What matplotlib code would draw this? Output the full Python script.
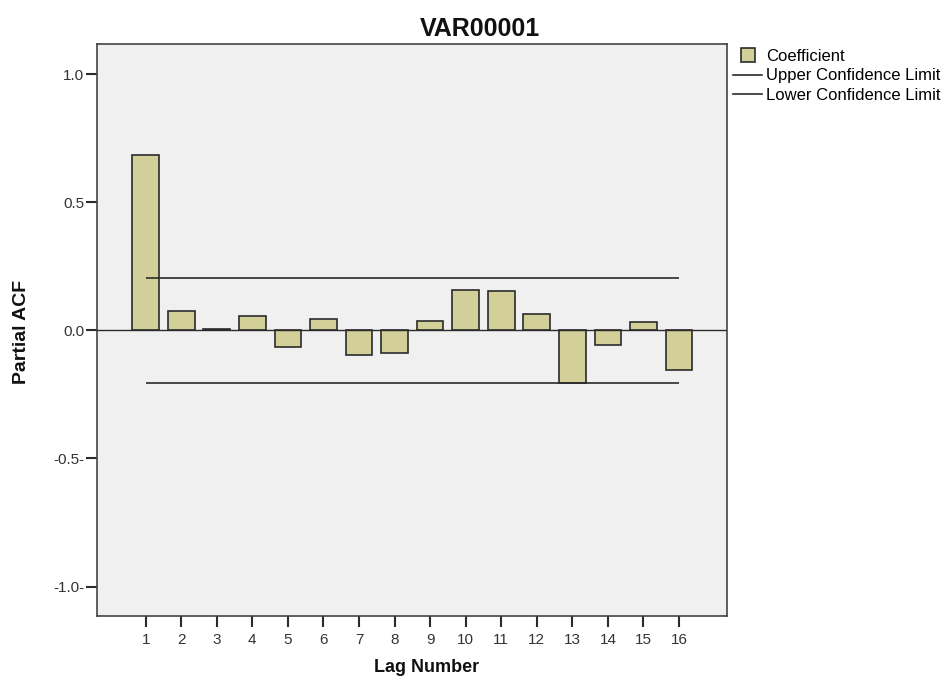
import numpy as np
import matplotlib.pyplot as plt
from matplotlib.lines import Line2D

# ----------------------------------------------------------------------
# Data
# ----------------------------------------------------------------------
LAGS = [1, 2, 3, 4, 5, 6, 7, 8, 9, 10, 11, 12, 13, 14, 15, 16]
PACF = [0.685, 0.075, 0.004, 0.055, -0.066, 0.043, -0.095, -0.090,
        0.038, 0.157, 0.153, 0.065, -0.205, -0.057, 0.033, -0.153]
UPPER_LIMIT = 0.205
LOWER_LIMIT = -0.205

Y_TICKS = [1.0, 0.5, 0.0, -0.5, -1.0]
Y_TICK_LABELS = ["1.0", "0.5", "0.0", "-0.5-", "-1.0-"]

BAR_COLOR = "#d3cf98"
EDGE = "#2b2b2b"
TEXT = "#333333"

plt.rcParams["font.family"] = ["Liberation Sans", "DejaVu Sans"]

fig = plt.figure(figsize=(9.47, 6.78), dpi=100)
ax = fig.add_axes([0.1024, 0.0914, 0.6653, 0.8437])
ax.set_facecolor("#f0f0f0")

ax.bar(LAGS, PACF, width=0.75, color=BAR_COLOR, edgecolor=EDGE,
       linewidth=1.2, zorder=3)
ax.axhline(0, color=EDGE, linewidth=1.0, zorder=4)
ax.hlines([UPPER_LIMIT, LOWER_LIMIT], LAGS[0], LAGS[-1],
          color=EDGE, linewidth=1.2, zorder=4)

ax.set_xlim(-0.37, 17.35)
ax.set_ylim(-1.115, 1.118)

ax.set_xticks(LAGS)
ax.set_xticklabels([str(l) for l in LAGS])
ax.set_yticks(Y_TICKS)
ax.set_yticklabels(Y_TICK_LABELS)
ax.tick_params(axis="x", direction="out", length=8, width=1.5,
               colors=EDGE, labelcolor=TEXT, labelsize=11, pad=4)
ax.tick_params(axis="y", direction="out", length=8, width=1.5,
               colors=EDGE, labelcolor=TEXT, labelsize=11, pad=1)

for sp in ax.spines.values():
    sp.set_color("#444444")
    sp.set_linewidth(1.2)

fig.text(480 / 947, 1 - 29 / 678, "VAR00001", ha="center", va="center",
         fontsize=18, weight="bold", color="#111111")
fig.text(427 / 947, 1 - 667 / 678, "Lag Number", ha="center",
         va="center", fontsize=13, weight="bold", color="#111111")
fig.text(21 / 947, 1 - 332 / 678, "Partial ACF", ha="center",
         va="center", rotation=90, fontsize=14, weight="bold",
         color="#111111")

handles = [
    Line2D([], [], linestyle="none", marker="s", markersize=10,
           markerfacecolor=BAR_COLOR, markeredgecolor=EDGE,
           markeredgewidth=1.2),
    Line2D([], [], color=EDGE, linewidth=1.2),
    Line2D([], [], color=EDGE, linewidth=1.2),
]
fig.legend(handles,
           ["Coefficient", "Upper Confidence Limit", "Lower Confidence Limit"],
           loc="upper left", bbox_to_anchor=(733 / 947, 1 - 49 / 678),
           frameon=False, fontsize=12, handlelength=1.75,
           handletextpad=0.24, labelspacing=0.26, borderpad=0,
           borderaxespad=0)

fig.savefig("out.png", dpi=100)
